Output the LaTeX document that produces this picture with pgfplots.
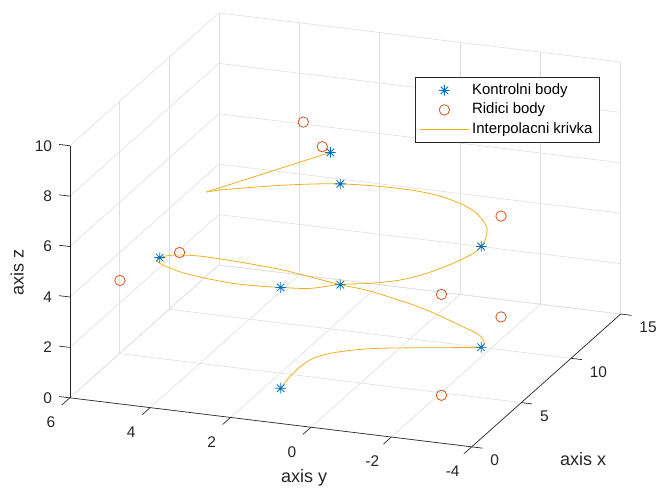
\documentclass[border=0pt]{standalone}
\usepackage{pgfplots}
\pgfplotsset{compat=1.18}
\usepackage{fontspec}
\setmainfont{Liberation Sans}
\definecolor{mblue}{RGB}{0,114,189}
\definecolor{mred}{RGB}{217,83,25}
\definecolor{myellow}{RGB}{237,177,32}
\definecolor{gridc}{RGB}{223,223,223}
\definecolor{axc}{RGB}{38,38,38}

% matlab-like '*' marker (plus and cross)
\pgfdeclareplotmark{mstar}{%
  \pgfpathmoveto{\pgfqpoint{-\pgfplotmarksize}{0pt}}\pgfpathlineto{\pgfqpoint{\pgfplotmarksize}{0pt}}%
  \pgfpathmoveto{\pgfqpoint{0pt}{-\pgfplotmarksize}}\pgfpathlineto{\pgfqpoint{0pt}{\pgfplotmarksize}}%
  \pgfpathmoveto{\pgfqpoint{-0.707\pgfplotmarksize}{-0.707\pgfplotmarksize}}\pgfpathlineto{\pgfqpoint{0.707\pgfplotmarksize}{0.707\pgfplotmarksize}}%
  \pgfpathmoveto{\pgfqpoint{-0.707\pgfplotmarksize}{0.707\pgfplotmarksize}}\pgfpathlineto{\pgfqpoint{0.707\pgfplotmarksize}{-0.707\pgfplotmarksize}}%
  \pgfusepathqstroke}

\pgfplotsset{
  mylegend/.style={legend image code/.code={%
    \draw[mark repeat=2,mark phase=2,##1] plot coordinates {(0pt,0pt) (18.5pt,0pt) (37pt,0pt)};}},
}
\tikzset{tl/.style={font=\fontsize{11.6}{13}\selectfont, text=axc, inner sep=0pt}}

\begin{document}
\begin{tikzpicture}
\begin{axis}[
    x={(7.4475pt,6.6375pt)}, y={(-30.1275pt,3.675pt)}, z={(0pt,18.9pt)},
    xmin=0, xmax=15, ymin=-4, ymax=6, zmin=0, zmax=10,
    xtick={0,5,10,15}, ytick={-4,-2,0,2,4,6}, ztick={0,2,4,6,8,10},
    xticklabels={}, yticklabels={}, zticklabels={},
    grid=major,
    major grid style={gridc, line width=0.45pt},
    axis line style={draw=none},
    major tick style={draw=none},
    clip=false,
    legend style={at={(axis cs:11.01,0.133,10)}, anchor=north west,
        draw=axc, line width=0.5pt, fill=white,
        font=\fontsize{11.2}{13}\selectfont, text=black,
        cells={anchor=west}, inner xsep=3pt, inner ysep=2.5pt,
        nodes={text height=8.2pt, text depth=2.3pt, inner ysep=2.05pt, inner xsep=2pt}},
]
% black axis lines
\draw[axc, line width=0.5pt] (axis cs:0,-4,0) -- (axis cs:15,-4,0);
\draw[axc, line width=0.5pt] (axis cs:0,-4,0) -- (axis cs:0,6,0);
\draw[axc, line width=0.5pt] (axis cs:0,6,0) -- (axis cs:0,6,10);
% outward ticks and their labels
\pgfplotsinvokeforeach{0,5,10,15}{
  \draw[axc, line width=0.5pt] (axis cs:#1,-4,0) -- (axis cs:#1,-4.27,0);
  \node[tl, anchor=west, yshift=-8.43pt] at (axis cs:#1,-4.46,0) {#1};}
\pgfplotsinvokeforeach{-4,-2,0,2,4,6}{
  \draw[axc, line width=0.5pt] (axis cs:0,#1,0) -- (axis cs:-0.8,#1,0);
  \node[tl, anchor=center, yshift=-5.67pt] at (axis cs:-1.913,#1,0) {#1};}
\pgfplotsinvokeforeach{0,2,4,6,8,10}{
  \draw[axc, line width=0.5pt] (axis cs:0,6,#1) -- (axis cs:0,6.27,#1);
  \node[tl, anchor=east, yshift=-1.6pt] at (axis cs:0,6.436,#1) {#1};}

\addplot3[mylegend, only marks, mark=mstar, mark size=4pt, mblue, mark options={line width=0.6pt}] coordinates {
  (1,1,1) (5,-3,2) (7,1,3) (5,5,4) (1,1,5) (5,-3,6) (7,1,7) (6,1,8.6)
};
\addlegendentry{Kontrolni body}

\addplot3[mylegend, only marks, mark=o, mark size=3.9pt, mred, mark options={line width=0.6pt}] coordinates {
  (1,-3,1.5) (7,-3,2.5) (7,5,3.5) (1,5,4.5) (1,-3,5.5) (7,-3,6.5) (5.47,1.07,9) (6.43,1.78,9.5)
};
\addlegendentry{Ridici body}

\addplot3[mylegend, myellow, line width=0.6pt, no markers, smooth, tension=0.5] coordinates {
  (1,1,1) (1.99,1.02,1.1) (2.86,0.98,1.2) (3.61,0.84,1.3) (4.06,0.53,1.4)
  (4.42,0.04,1.5) (4.62,-0.49,1.6) (4.83,-1.27,1.7) (4.99,-2.06,1.8) (5.06,-2.62,1.9)
  (5,-3,2) (5.17,-3.03,2.1) (5.39,-2.94,2.2) (5.57,-2.75,2.3) (5.81,-2.35,2.4)
  (6.25,-1.75,2.5) (6.72,-1.05,2.6) (7.04,-0.31,2.7) (7.16,0.39,2.85) (7,1,3)
  (7.05,1.77,3.15) (7.04,2.51,3.3) (6.78,3.44,3.5) (6.39,4.34,3.7) (5.79,4.86,3.85)
  (5,5,4) (4.41,4.92,4.1) (3.80,4.62,4.2) (2.90,3.90,4.35) (2.25,3.15,4.5)
  (1.70,2.36,4.65) (1.38,1.61,4.8) (1,1,5) (0.96,0.26,5.12) (1.40,-0.39,5.25)
  (1.48,-1.10,5.4) (1.80,-1.77,5.55) (2.41,-2.28,5.7) (3.43,-2.69,5.82) (4.41,-2.95,5.92)
  (5,-3,6) (5.48,-2.98,6.08) (6.25,-2.84,6.18) (6.66,-2.68,6.27) (7.30,-2.32,6.37)
  (7.64,-1.99,6.45) (7.77,-1.79,6.5) (8.00,-1.23,6.6) (8.01,-0.73,6.68) (7.86,-0.27,6.76)
  (7.52,0.39,6.87) (7,1,7) (6.41,1.53,7.1) (5.62,2.16,7.2) (4.73,2.77,7.3)
  (3.93,3.24,7.4) (3.32,3.42,7.5)
};
\addlegendentry{Interpolacni krivka}
\addplot3[myellow, line width=0.6pt, no markers, forget plot] coordinates {
  (3.32,3.42,7.5) (6,1,8.6)
};

\node[font=\fontsize{13.5}{15}\selectfont, text=axc] at (axis cs:0.13,-6.74,0) {axis x};
\node[font=\fontsize{13.5}{15}\selectfont, text=axc] at (axis cs:-5.09,-1.09,0) {axis y};
\node[font=\fontsize{13.5}{15}\selectfont, text=axc, rotate=90] at (axis cs:0,7.31,4.71) {axis z};

\coordinate (bbtl) at (axis cs:38.68,17.30,0);
\coordinate (bbbr) at (axis cs:-2.12,-9.21,0);
\end{axis}
\pgfresetboundingbox
\path[use as bounding box] (bbtl) rectangle (bbbr);
\end{tikzpicture}
\end{document}
